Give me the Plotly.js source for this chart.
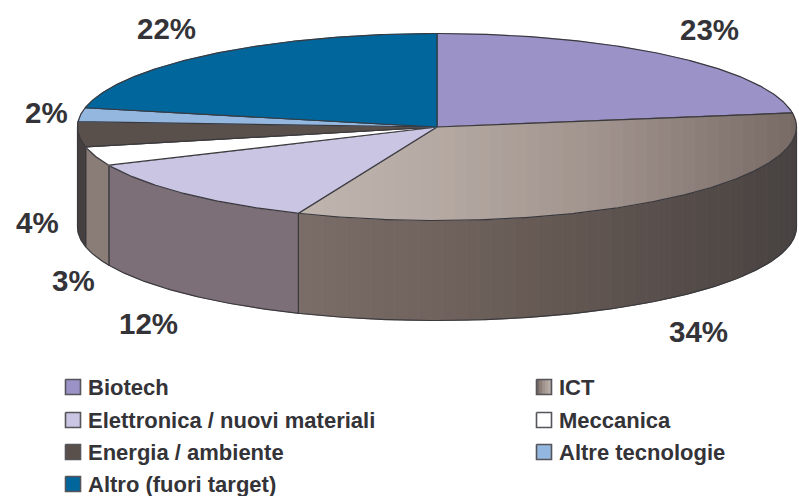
<!DOCTYPE html>
<html><head><meta charset="utf-8">
<script src="https://cdn.plot.ly/plotly-3.0.1.min.js"></script>
<style>html,body{margin:0;padding:0;background:#fff}</style></head>
<body><div id="c" style="width:799px;height:496px"></div>
<script>
// data
const categories=["Biotech","ICT","Elettronica / nuovi materiali","Meccanica","Energia / ambiente","Altre tecnologie","Altro (fuori target)"];
const shares=[22.6,33.7,12.0,3.3,4.3,2.4,21.7];
const shareLabels=["23%","34%","12%","3%","4%","2%","22%"];
const topColors=["#9b92c8",null,"#c9c5e3","#ffffff","#5a504b","#94b7e0","#00669c"];
const sideColors=[null,null,"#7d6f77","#8a7c76","#45403f",null,null];
const legendSwatch=["#9b92c8",null,"#c9c5e3","#ffffff","#5a504b","#94b7e0","#00669c"];
const labelPos=[[709,29],[698,331],[148,323],[73,280],[37,222],[46,112],[166,28]];
const legendPos=[[73,387],[544,387],[73,420],[544,420],[73,452],[544,452],[73,484]];
// geometry
const cx=437,cy=127,rx=359.5,ry=93.5,depth=100;
const EDGE="#3a393e";
const ictTopStops=[[298,[191,182,174]],[437,[181,170,163]],[600,[160,146,140]],[797,[119,106,100]]];
const ictSideStops=[[298,[122,109,103]],[437,[112,99,94]],[580,[98,86,81]],[797,[71,66,65]]];
const pt=(d,dy=0)=>{const a=d*Math.PI/180;return [cx+rx*Math.sin(a),cy-ry*Math.cos(a)+dy];};
const col=(st,x)=>{for(let i=1;i<st.length;i++){if(x<=st[i][0]){const t=(x-st[i-1][0])/(st[i][0]-st[i-1][0]);
  const c=st[i-1][1].map((v,k)=>Math.round(v+(st[i][1][k]-v)*t));return `rgb(${c})`;}}return `rgb(${st[st.length-1][1]})`;};
const traces=[];
const poly=(pts,fill,line,w)=>{traces.push({x:pts.map(p=>p[0]),y:pts.map(p=>p[1]),mode:'lines',
  fill:fill?'toself':'none',fillcolor:fill||undefined,line:{color:line||fill,width:w||0.8},hoverinfo:'skip',showlegend:false});};
const arc=(a,b,dy=0)=>{const n=Math.max(2,Math.ceil(Math.abs(b-a)*2)),r=[];for(let i=0;i<=n;i++)r.push(pt(a+(b-a)*i/n,dy));return r;};
// angles
const bounds=[0];shares.forEach(v=>bounds.push(bounds[bounds.length-1]+v/shares.reduce((s,q)=>s+q,0)*360));
const ellLow=x=>cy+ry*Math.sqrt(Math.max(0,1-((x-cx)/rx)**2));
const ellUp=x=>cy-ry*Math.sqrt(Math.max(0,1-((x-cx)/rx)**2));
// sides (front half only)
for(let i=0;i<categories.length;i++){
  const a=Math.max(bounds[i],90),b=Math.min(bounds[i+1],270);
  if(a>=b)continue;
  if(i===1){
    const x0=pt(b)[0],x1=cx+rx;
    for(let x=x0;x<x1;x+=12){
      const e=Math.min(x+12.5,x1),up=[],lo=[];
      for(let q=x;;q+=1){const v=Math.min(q,e);up.push([v,ellLow(v)]);lo.unshift([v,ellLow(v)+depth]);if(v>=e)break;}
      poly(up.concat(lo),col(ictSideStops,x+6));
    }
  } else poly(arc(a,b).concat(arc(b,a,depth)),sideColors[i]);
  const o=arc(a,b).concat(arc(b,a,depth));o.push(o[0]);
  poly(o,null,EDGE,1.2);
}
// tops
for(let i=0;i<categories.length;i++){
  const o=[[cx,cy]].concat(arc(bounds[i],bounds[i+1]));o.push([cx,cy]);
  if(i===1){
    const pa=pt(bounds[1]),pb=pt(bounds[2]);
    const upper=x=>x>=cx?Math.max(ellUp(x),cy+(pa[1]-cy)*(x-cx)/(pa[0]-cx)):cy+(pb[1]-cy)*(cx-x)/(cx-pb[0]);
    const x1=cx+rx;
    for(let x=pb[0];x<x1;x+=12){
      const e=Math.min(x+12.5,x1),up=[],lo=[];
      for(let q=x;;q+=1){const v=Math.min(q,e);up.push([v,upper(v)]);lo.unshift([v,ellLow(v)]);if(v>=e)break;}
      poly(up.concat(lo),col(ictTopStops,x+6));
    }
  } else poly(o,topColors[i]);
  poly(o,null,EDGE,1.2);
}
// legend
const SW=7.5;
categories.forEach((c,i)=>{
  const [x,y]=legendPos[i];
  const sq=[[x-SW,y-SW],[x+SW,y-SW],[x+SW,y+SW],[x-SW,y+SW],[x-SW,y-SW]];
  if(legendSwatch[i]) poly(sq,legendSwatch[i]);
  else for(let s=0;s<5;s++){const l=x-SW+s*3;
    poly([[l,y-SW],[l+3,y-SW],[l+3,y+SW],[l,y+SW]],col(ictTopStops,797-s*100));}
  poly(sq,null,"#55545a",1.6);
});
const annotations=[];
shareLabels.forEach((t,i)=>annotations.push({x:labelPos[i][0],y:labelPos[i][1],text:t,showarrow:false,xanchor:'center',yanchor:'middle',
  font:{family:'"Liberation Sans",Arial,sans-serif',size:29.5,color:'#333338',weight:700}}));
categories.forEach((t,i)=>annotations.push({x:legendPos[i][0]+15,y:legendPos[i][1],text:t,showarrow:false,xanchor:'left',yanchor:'middle',xshift:-2.5,
  font:{family:'"Liberation Sans",Arial,sans-serif',size:22,color:'#333338',weight:700}}));
Plotly.newPlot('c',traces,{width:799,height:496,margin:{l:0,r:0,t:0,b:0},paper_bgcolor:'#fff',plot_bgcolor:'#fff',showlegend:false,
  xaxis:{range:[0,799],visible:false,fixedrange:true},yaxis:{range:[496,0],visible:false,fixedrange:true},annotations},{displayModeBar:false,staticPlot:true});
</script></body></html>
